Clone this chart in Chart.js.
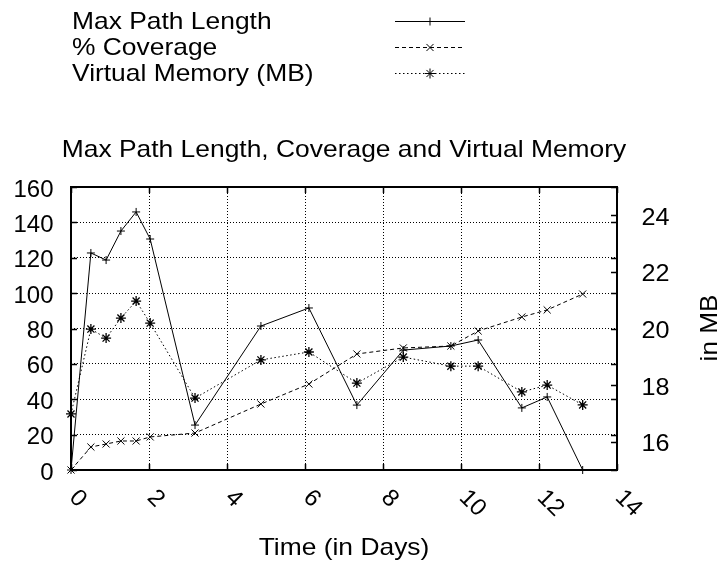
<!DOCTYPE html>
<html><head><meta charset="utf-8">
<script src="https://cdn.jsdelivr.net/npm/chart.js@4.4.0/dist/chart.umd.min.js"></script>
<style>html,body{margin:0;padding:0;background:#fff}#wrap{width:724px;height:563px}</style>
</head><body><div id="wrap"><canvas id="c" width="724" height="563"></canvas></div>
<script>
// ---- data ----
const days          = [0, 0.51, 0.90, 1.28, 1.67, 2.03, 3.18, 4.87, 6.10, 7.33, 8.52, 9.74, 10.44, 11.56, 12.21, 13.12];
const maxPathLength = [0, 122.7, 118.7, 135.1, 145.9, 130.6, 25.4, 81.4, 91.6, 36.7, 67.8, 70.1, 73.5, 35.1, 41.3, 0];
const coverage      = [0, 13.0, 14.7, 16.4, 16.4, 18.7, 20.9, 37.3, 48.6, 65.6, 69.0, 70.1, 78.6, 86.5, 90.5, 99.5];
const virtualMemory = [16.98, 19.98, 19.66, 20.37, 20.97, 20.19, 17.54, 18.89, 19.17, 18.07, 18.99, 18.67, 18.67, 17.76, 18.0, 17.30];
const seriesLabels  = ['Max Path Length', '% Coverage', 'Virtual Memory (MB)'];
const xTicks  = [0, 2, 4, 6, 8, 10, 12, 14];
const yTicks  = [0, 20, 40, 60, 80, 100, 120, 140, 160];
const y2Ticks = [16, 18, 20, 22, 24];
const chartTitle = 'Max Path Length, Coverage and Virtual Memory';
const xTitle  = 'Time (in Days)';
const y2Title = 'in MB';

const FONT = '24px "Liberation Sans", Arial, Helvetica, sans-serif';
const pts = arr => days.map((d, i) => ({x: d, y: arr[i]}));

function sText(ctx, text, x, y, align, sx, rot) {
  ctx.save();
  ctx.translate(x, y);
  if (rot) ctx.rotate(rot);
  ctx.scale(sx, 1);
  ctx.textAlign = align;
  ctx.fillText(text, 0, 0);
  ctx.restore();
}

const gnuplotDecor = {
  id: 'gnuplotDecor',
  afterDraw(chart) {
    const ctx = chart.ctx, a = chart.chartArea;
    const xs = chart.scales.x, ys = chart.scales.y, y2s = chart.scales.y2;
    ctx.save();
    // frame
    ctx.strokeStyle = '#000';
    ctx.lineWidth = 2;
    ctx.setLineDash([]);
    ctx.strokeRect(Math.round(a.left), Math.round(a.top), Math.round(a.right - a.left), Math.round(a.bottom - a.top));
    // inward tick marks
    ctx.lineWidth = 1.5;
    const L = 6;
    ctx.beginPath();
    xTicks.forEach(v => {
      const px = Math.round(xs.getPixelForValue(v)) + 0.5;
      ctx.moveTo(px, a.bottom); ctx.lineTo(px, a.bottom - L);
      ctx.moveTo(px, a.top); ctx.lineTo(px, a.top + L);
    });
    yTicks.forEach(v => {
      const py = Math.round(ys.getPixelForValue(v)) + 0.5;
      ctx.moveTo(a.left, py); ctx.lineTo(a.left + L, py);
      ctx.moveTo(a.right, py); ctx.lineTo(a.right - L, py);
    });
    y2Ticks.forEach(v => {
      const py = Math.round(y2s.getPixelForValue(v)) + 0.5;
      ctx.moveTo(a.right, py); ctx.lineTo(a.right - L, py);
    });
    ctx.stroke();

    // texts
    ctx.fillStyle = '#000';
    ctx.font = FONT;
    ctx.textBaseline = 'alphabetic';
    yTicks.forEach(v => sText(ctx, String(v), a.left - 17.5, ys.getPixelForValue(v) + 9.5, 'right', 1.0));
    y2Ticks.forEach(v => sText(ctx, String(v), a.right + 24.5, y2s.getPixelForValue(v) + 9.5, 'left', 1.05));
    ctx.textBaseline = 'middle';
    xTicks.forEach(v => sText(ctx, String(v), xs.getPixelForValue(v) + 2, a.bottom + 24, 'left', 1.0, Math.PI / 4));
    ctx.textBaseline = 'alphabetic';
    const cx = (a.left + a.right) / 2;
    sText(ctx, chartTitle, cx, a.top - 30, 'center', 1.1);
    sText(ctx, xTitle, cx, a.bottom + 85, 'center', 1.1);
    sText(ctx, y2Title, 717.3, (a.top + a.bottom) / 2 - 0.5, 'center', 1.09, -Math.PI / 2);

    // key
    chart.data.datasets.forEach((ds, i) => {
      const base = 29.3 + 26 * i;
      sText(ctx, ds.label, 72, base, 'left', 1.1);
      const ly = Math.round(base - 8.7) + 0.5;
      ctx.save();
      ctx.strokeStyle = '#000';
      ctx.lineWidth = 1;
      ctx.setLineDash(ds.borderDash || []);
      ctx.beginPath(); ctx.moveTo(395, ly); ctx.lineTo(465, ly); ctx.stroke();
      ctx.setLineDash([]);
      Chart.helpers.drawPoint(ctx, {pointStyle: ds.pointStyle, radius: ds.pointRadius, borderWidth: ds.pointBorderWidth, rotation: 0}, 430, ly);
      ctx.restore();
    });
    ctx.restore();
  }
};

const noSize = axis => s => { if (axis === 'x') s.height = 0; else s.width = 0; };
const setTicks = arr => s => { s.ticks = arr.map(v => ({value: v})); };

new Chart(document.getElementById('c'), {
  type: 'line',
  data: {
    datasets: [
      {label: seriesLabels[0], data: pts(maxPathLength), yAxisID: 'y',
       borderColor: '#000', borderWidth: 1, pointStyle: 'cross', pointRadius: 4,
       pointBorderColor: '#000', pointBorderWidth: 1, pointBackgroundColor: '#000', tension: 0, fill: false, clip: false},
      {label: seriesLabels[1], data: pts(coverage), yAxisID: 'y',
       borderColor: '#000', borderWidth: 1, borderDash: [4, 3], pointStyle: 'crossRot', pointRadius: 5,
       pointBorderColor: '#000', pointBorderWidth: 1, pointBackgroundColor: '#000', tension: 0, fill: false, clip: false},
      {label: seriesLabels[2], data: pts(virtualMemory), yAxisID: 'y2',
       borderColor: '#000', borderWidth: 1, borderDash: [1.5, 2.5], pointStyle: 'star', pointRadius: 5,
       pointBorderColor: '#000', pointBorderWidth: 1.3, pointBackgroundColor: '#000', tension: 0, fill: false, clip: false}
    ]
  },
  options: {
    responsive: false, animation: false, devicePixelRatio: 1,
    layout: {padding: {left: 71, right: 107, top: 187, bottom: 93}},
    plugins: {legend: {display: false}, title: {display: false}, tooltip: {enabled: false}},
    elements: {point: {hoverRadius: 4}},
    events: [],
    scales: {
      x: {type: 'linear', min: 0, max: 14, afterBuildTicks: setTicks(xTicks), afterFit: noSize('x'),
          ticks: {display: false}, grid: {color: '#000', lineWidth: 1, drawTicks: false},
          border: {display: false, dash: [1, 2]}},
      y: {type: 'linear', position: 'left', min: 0, max: 160, afterBuildTicks: setTicks(yTicks), afterFit: noSize('y'),
          ticks: {display: false}, grid: {color: '#000', lineWidth: 1, drawTicks: false},
          border: {display: false, dash: [1, 2]}},
      y2: {type: 'linear', position: 'right', min: 15, max: 25, afterBuildTicks: setTicks(y2Ticks), afterFit: noSize('y'),
          ticks: {display: false}, grid: {drawOnChartArea: false, drawTicks: false},
          border: {display: false}}
    }
  },
  plugins: [gnuplotDecor]
});
</script></body></html>
